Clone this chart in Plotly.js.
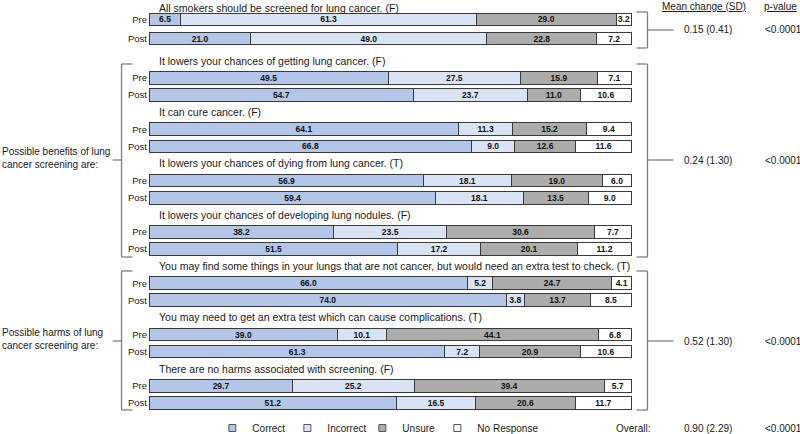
<!DOCTYPE html>
<html>
<head>
<meta charset="utf-8">
<script src="https://cdn.plot.ly/plotly-3.0.1.min.js"></script>
<style>html,body{margin:0;padding:0;background:#fff;}#chart{width:800px;height:434px;}</style>
</head>
<body>
<div id="chart"></div>
<script>
// ---------------- DATA ----------------
const questions = [
  "All smokers should be screened for lung cancer. (F)",
  "It lowers your chances of getting lung cancer. (F)",
  "It can cure cancer. (F)",
  "It lowers your chances of dying from lung cancer. (T)",
  "It lowers your chances of developing lung nodules. (F)",
  "You may find some things in your lungs that are not cancer, but would need an extra test to check. (T)",
  "You may need to get an extra test which can cause complications. (T)",
  "There are no harms associated with screening. (F)"
];
const timeLabels = ["Pre", "Post"];
const categories = ["Correct", "Incorrect", "Unsure", "No Response"];

const correctPre    = [6.5, 49.5, 64.1, 56.9, 38.2, 66.0, 39.0, 29.7];
const correctPost   = [21.0, 54.7, 66.8, 59.4, 51.5, 74.0, 61.3, 51.2];
const incorrectPre  = [61.3, 27.5, 11.3, 18.1, 23.5, 5.2, 10.1, 25.2];
const incorrectPost = [49.0, 23.7, 9.0, 18.1, 17.2, 3.8, 7.2, 16.5];
const unsurePre     = [29.0, 15.9, 15.2, 19.0, 30.6, 24.7, 44.1, 39.4];
const unsurePost    = [22.8, 11.0, 12.6, 13.5, 20.1, 13.7, 20.9, 20.6];
const noRespPre     = [3.2, 7.1, 9.4, 6.0, 7.7, 4.1, 6.8, 5.7];
const noRespPost    = [7.2, 10.6, 11.6, 9.0, 11.2, 8.5, 10.6, 11.7];

const sectionLabels = ["Possible benefits of lung<br>cancer screening are:", "Possible harms of lung<br>cancer screening are:"];
const meanChange = ["0.15 (0.41)", "0.24 (1.30)", "0.52 (1.30)"];
const pValues = ["<0.0001", "<0.0001", "<0.0001"];
const overallMean = "0.90 (2.29)";
const overallP = "<0.0001";

// ---------------- LAYOUT HELPERS ----------------
const W = 800, H = 434;
const M = {l: 147.5, r: 166.5, t: 0, b: 21, autoexpand: false};
const PW = W - M.l - M.r, PH = H - M.t - M.b;
const px = x => (x - M.l) / PW;          // pixel -> paper x
const py = y => 1 - (y - M.t) / PH;      // pixel -> paper y

// slot positions of title / Pre / Post rows (first group slightly tighter to top)
const firstShift = [-0.12, -0.42, -0.3];
function slot(q, k) { return 3 * q + k + (q === 0 ? firstShift[k] : 0); }

const colors = ["#b4c6e7", "#dae3f3", "#acacac", "#ffffff"];
const seriesPre = [correctPre, incorrectPre, unsurePre, noRespPre];
const seriesPost = [correctPost, incorrectPost, unsurePost, noRespPost];

const yPos = [], tickText = [];
questions.forEach((q, i) => { yPos.push(slot(i, 1), slot(i, 2)); tickText.push(timeLabels[0], timeLabels[1]); });

const FONT = "Liberation Sans, Arial, sans-serif";

const traces = categories.map((name, c) => {
  const xs = [];
  questions.forEach((q, i) => { xs.push(seriesPre[c][i], seriesPost[c][i]); });
  return {
    type: "bar", orientation: "h", name: name, legendgroup: name, showlegend: false,
    x: xs, y: yPos, width: 0.74,
    marker: {color: colors[c], line: {color: "#3a3a3a", width: 1}},
    text: xs.map(v => v.toFixed(1)),
    textposition: "inside", insidetextanchor: "middle", textangle: 0,
    textfont: {family: FONT, size: 8.5, color: "#111", weight: "bold"},
    hoverinfo: "skip"
  };
});
// legend keys (small outlined squares)
categories.forEach((name, c) => {
  traces.push({type: "scatter", mode: "markers", name: name, legendgroup: name, x: [null], y: [null],
    marker: {symbol: "square", size: 7, color: colors[c], line: {color: "#555", width: 1}}, hoverinfo: "skip"});
});
// invisible spacer so the last legend label is not clipped
traces.push({type: "scatter", mode: "markers", name: "", x: [null], y: [null],
  marker: {size: 1, opacity: 0}, hoverinfo: "skip"});

const annotations = [];
questions.forEach((q, i) => {
  annotations.push({text: q, xref: "x", yref: "y", x: 0, y: slot(i, 0), xanchor: "left", yanchor: "middle",
    xshift: 8, showarrow: false, font: {family: FONT, size: 10.5, color: "#1a1a1a"}});
});
const txt = (text, x, y, opts = {}) => Object.assign({text, xref: "paper", yref: "paper", x: px(x), y: py(y),
  xanchor: "center", yanchor: "middle", showarrow: false, align: "left",
  font: {family: FONT, size: 10, color: "#1a1a1a"}}, opts);

annotations.push(txt("Mean change (SD)", 705, 7, {font: {family: FONT, size: 10, color: "#1a1a1a", lineposition: "under"}}));
annotations.push(txt("p-value", 781, 7, {font: {family: FONT, size: 10, color: "#1a1a1a", lineposition: "under"}}));
const groupMid = [30, 160, 341];
groupMid.forEach((y, g) => {
  annotations.push(txt(meanChange[g], 683, y, {xanchor: "left"}));
  annotations.push(txt(pValues[g], 764, y, {xanchor: "left"}));
});
annotations.push(txt("Overall:", 653, 428, {xanchor: "right"}));
annotations.push(txt(overallMean, 683, 428, {xanchor: "left"}));
annotations.push(txt(overallP, 764, 428, {xanchor: "left"}));
annotations.push(txt(sectionLabels[0], -1, 158, {xanchor: "left", font: {family: FONT, size: 10, color: "#1a1a1a"}}));
annotations.push(txt(sectionLabels[1], -1, 339, {xanchor: "left", font: {family: FONT, size: 10, color: "#1a1a1a"}}));

// brackets
const shapes = [];
const line = (x0, y0, x1, y1) => shapes.push({type: "line", xref: "paper", yref: "paper",
  x0: px(x0), y0: py(y0), x1: px(x1), y1: py(y1), line: {color: "#7f7f7f", width: 1.3}});
function rightBracket(top, bot, mid) {
  line(637, top, 648, top); line(648, top, 648, bot); line(637, bot, 648, bot); line(648, mid, 674, mid);
}
function leftBracket(top, bot, mid) {
  line(132, top, 121, top); line(121, top, 121, bot); line(132, bot, 121, bot); line(121, mid, 112, mid);
}
rightBracket(12, 48, 30);
rightBracket(64, 257, 160);
rightBracket(271, 410, 341);
leftBracket(64, 257, 160);
leftBracket(271, 410, 341);

const layout = {
  width: W, height: H, margin: M, paper_bgcolor: "#fff", plot_bgcolor: "#fff",
  barmode: "stack", showlegend: true,
  font: {family: FONT, size: 10, color: "#1a1a1a"},
  xaxis: {range: [-0.3, 100.3], visible: false, fixedrange: true},
  yaxis: {range: [23.59, -0.56], tickvals: yPos, ticktext: tickText, ticks: "", showgrid: false,
    zeroline: false, showline: false, tickfont: {family: FONT, size: 9.5, color: "#1a1a1a"}, fixedrange: true},
  uniformtext: {mode: "show", minsize: 8.5},
  legend: {orientation: "h", x: px(212), xanchor: "left", y: py(428), yanchor: "middle",
    font: {family: FONT, size: 10, color: "#1a1a1a"}, itemwidth: 30, entrywidth: 30,
    bgcolor: "rgba(0,0,0,0)", traceorder: "normal"},
  annotations, shapes
};
Plotly.newPlot("chart", traces, layout, {displayModeBar: false, staticPlot: true});
</script>
</body>
</html>
